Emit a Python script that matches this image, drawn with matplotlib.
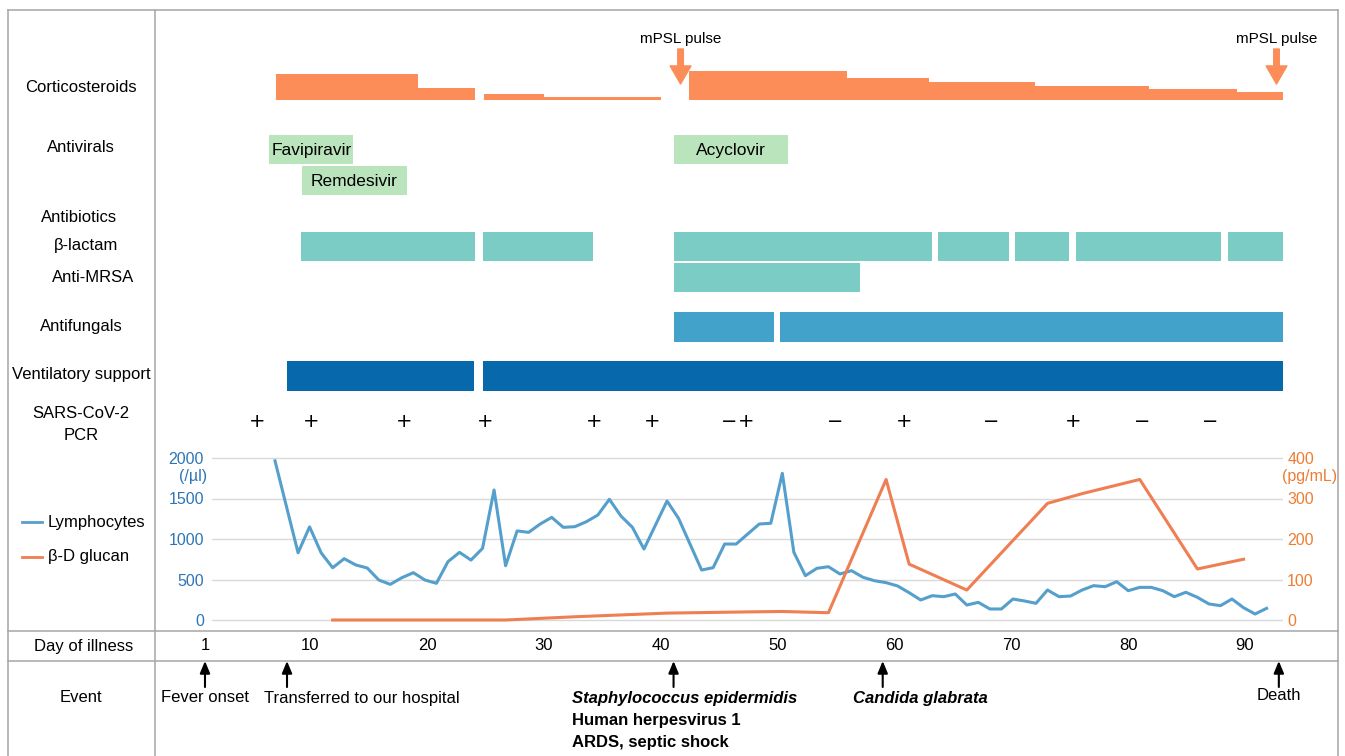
import matplotlib
matplotlib.use("Agg")
import matplotlib.pyplot as plt
from matplotlib.lines import Line2D
from matplotlib import transforms

plt.rcParams['font.family'] = ['Liberation Sans', 'DejaVu Sans']

# ---------------- data ----------------
# Corticosteroids (relative daily dose, arbitrary units)
steroid_start = [7.05, 19.2, 24.85, 30.0, 42.45, 55.95, 63.0, 72.05, 81.8, 89.3]
steroid_end = [19.2, 24.1, 30.0, 40.0, 55.95, 63.0, 72.05, 81.8, 89.3, 93.25]
steroid_dose = [26, 12.5, 6.5, 3, 29.5, 22, 18, 14, 11, 8.5]
mpsl_pulse_days = [41.7, 92.7]

antiviral_names = ['Favipiravir', 'Remdesivir', 'Acyclovir']
antiviral_start = [6.5, 9.3, 41.1]
antiviral_end = [13.7, 18.3, 50.9]
antiviral_lane = [0, 1, 0]

blactam_start = [9.25, 24.8, 41.15, 63.75, 70.3, 75.5, 88.55]
blactam_end = [24.1, 34.2, 63.2, 69.8, 74.95, 87.95, 93.25]
mrsa_start = [41.15]
mrsa_end = [57.05]
antifungal_start = [41.15, 50.2]
antifungal_end = [49.7, 93.25]
vent_start = [8.05, 24.8]
vent_end = [24.05, 93.25]

pcr_days = [5.5, 10.05, 18.0, 24.95, 34.3, 39.3, 45.85, 47.3, 54.9, 60.8, 68.3, 75.3, 81.2, 87.0]
pcr_results = ['+', '+', '+', '+', '+', '+', '\u2212', '+', '\u2212', '+', '\u2212', '+', '\u2212', '\u2212']

lymph_days = [7, 9, 10, 11, 12, 13, 14, 15, 16, 17, 18, 19, 20, 21, 22, 23, 24, 25, 26, 27,
              28, 29, 30, 31, 32, 33, 34, 35, 36, 37, 38, 39, 41, 42, 44, 45, 46, 47, 48, 49,
              50, 51, 52, 53, 54, 55, 56, 57, 58, 59, 60, 61, 62, 63, 64, 65, 66, 67, 68, 69,
              70, 71, 72, 73, 74, 75, 76, 77, 78, 79, 80, 81, 82, 83, 84, 85, 86, 87, 88, 89,
              90, 91, 92, 93]
lymph_values = [1965, 830, 1150, 830, 645, 757, 680, 642, 494, 440, 522, 584, 494, 453, 720, 835,
                740, 885, 1605, 670, 1100, 1082, 1185, 1267, 1144, 1152, 1213, 1296, 1490, 1284,
                1144, 876, 1469, 1255, 617, 646, 938, 938, 1062, 1185, 1194, 1811, 836, 547, 638,
                658, 568, 609, 527, 485, 461, 420, 337, 247, 300, 288, 321, 185, 218, 136, 136,
                259, 235, 206, 370, 288, 296, 370, 424, 411, 473, 362, 403, 403, 362, 288, 342,
                280, 198, 177, 259, 152, 74, 144]

glucan_days = [12, 19, 27, 33, 41, 48, 51, 55, 60, 62, 67, 74, 77, 82, 87, 91]
glucan_values = [0, 0, 0, 8, 17, 20, 21, 18, 347, 138, 74, 288, 312, 347, 126, 150]

illness_day_ticks = [1, 10, 20, 30, 40, 50, 60, 70, 80, 90]
event_days = [1, 8.02, 41.1, 59.0, 92.9]

# ---------------- layout helpers ----------------
W, H = 1345, 756
fig = plt.figure(figsize=(W / 100, H / 100), dpi=100)
fig.patch.set_facecolor('white')
PX = transforms.Affine2D().scale(1 / W, -1 / H).translate(0, 1) + fig.transFigure


def fig_rect(x0, y0, x1, y1):
    return [x0 / W, 1 - y1 / H, (x1 - x0) / W, (y1 - y0) / H]


ORANGE = '#FC8D59'
GREEN = '#BAE4BC'
TEAL = '#7BCCC4'
MIDBLUE = '#43A2CA'
DARKBLUE = '#0868AC'
LYMPH_C = '#559FCC'
GLUC_C = '#EF7E52'
BLUE_TXT = '#2E75B6'
ORANGE_TXT = '#ED7D31'
FRAME = '#A6A6A6'

# frame lines
for xs, ys in [([8, 1338], [10, 10]), ([8, 8], [10, 756]), ([1338, 1338], [10, 756]),
               ([155, 155], [10, 756]), ([8, 1338], [631, 631]), ([8, 1338], [661, 661])]:
    fig.add_artist(Line2D(xs, ys, transform=PX, color=FRAME, lw=1.1))

# ---------------- timeline panel ----------------
ax = fig.add_axes(fig_rect(155, 10, 1338, 756))
x_a, x_b = 193.3, 11.685  # pixel = x_a + x_b*day
ax.set_xlim((155 - x_a) / x_b, (1338 - x_a) / x_b)
ax.set_ylim(756, 10)
ax.axis('off')


def bars(starts, ends, top, height, color):
    ax.bar(starts, height, width=[e - s for s, e in zip(starts, ends)], bottom=top,
           align='edge', color=color, edgecolor='none')


# corticosteroids
ax.bar(steroid_start, [-d for d in steroid_dose],
       width=[e - s for s, e in zip(steroid_start, steroid_end)], bottom=100,
       align='edge', color=ORANGE, edgecolor='none')
for d in mpsl_pulse_days:
    ax.annotate('', xy=(d, 84), xytext=(d, 49),
                arrowprops=dict(arrowstyle='simple,head_length=0.65,head_width=0.75,tail_width=0.2',
                                color=ORANGE, mutation_scale=20, shrinkA=0, shrinkB=0))
    ax.text(d, 39, 'mPSL pulse', ha='center', va='center', fontsize=11)

# antivirals
lane_top = [134.5, 165.5]
for name, s, e, ln in zip(antiviral_names, antiviral_start, antiviral_end, antiviral_lane):
    bars([s], [e], lane_top[ln], 29.5, GREEN)
    ax.text((s + e) / 2, lane_top[ln] + 15.5, name, ha='center', va='center', fontsize=12.5)

bars(blactam_start, blactam_end, 231.5, 29.5, TEAL)
bars(mrsa_start, mrsa_end, 262.5, 29.5, TEAL)
bars(antifungal_start, antifungal_end, 312, 30, MIDBLUE)
bars(vent_start, vent_end, 361, 30, DARKBLUE)

for d, r in zip(pcr_days, pcr_results):
    ax.text(d, 421.5, r, ha='center', va='center', fontsize=14, family='DejaVu Sans')

# day of illness
for d in illness_day_ticks:
    ax.text(d, 646, str(d), ha='center', va='center', fontsize=12)

# events
for d in event_days:
    ax.annotate('', xy=(d, 661), xytext=(d, 687),
                arrowprops=dict(arrowstyle='-|>,head_width=0.25,head_length=0.6', color='black',
                                lw=1.5, mutation_scale=12, shrinkA=0, shrinkB=0))
ax.text(event_days[0], 698, 'Fever onset', ha='center', va='center', fontsize=12)
ax.text((264 - x_a) / x_b, 698, 'Transferred to our hospital', ha='left', va='center', fontsize=12)
ax.text((572 - x_a) / x_b, 698, 'Staphylococcus epidermidis', ha='left', va='center', fontsize=12,
        weight='bold', style='italic')
ax.text((572 - x_a) / x_b, 720, 'Human herpesvirus 1', ha='left', va='center', fontsize=12, weight='bold')
ax.text((572 - x_a) / x_b, 742, 'ARDS, septic shock', ha='left', va='center', fontsize=12, weight='bold')
ax.text((853 - x_a) / x_b, 698, 'Candida glabrata', ha='left', va='center', fontsize=12,
        weight='bold', style='italic')
ax.text(event_days[4], 696, 'Death', ha='center', va='center', fontsize=12)

# ---------------- left column labels ----------------
left_labels = [('Corticosteroids', 81, 87), ('Antivirals', 81, 148), ('Antibiotics', 79, 218),
               ('\u03b2-lactam', 86, 246), ('Anti-MRSA', 93, 277), ('Antifungals', 81, 327),
               ('Ventilatory support', 81, 375), ('SARS-CoV-2', 81, 413), ('PCR', 81, 436),
               ('Day of illness', 84, 646), ('Event', 81, 698)]
for s, x, y in left_labels:
    fig.text(x / W, 1 - y / H, s, ha='center', va='center', fontsize=12)

# legend
for y, lab, c in [(522, 'Lymphocytes', LYMPH_C), (557, '\u03b2-D glucan', GLUC_C)]:
    fig.add_artist(Line2D([22, 42], [y, y], transform=PX, color=c, lw=2))
    fig.text(48 / W, 1 - y / H, lab, ha='left', va='center', fontsize=12)

# ---------------- lymphocyte / glucan chart ----------------
axc = fig.add_axes(fig_rect(211.7, 448, 1283, 631))
c_a, c_b = 275.0, 11.53  # pixel = c_a + c_b*(day-7)
axc.set_xlim(7 + (211.7 - c_a) / c_b, 7 + (1283 - c_a) / c_b)
axc.set_ylim(-(631 - 620) / 162 * 2000, (620 - 448) / 162 * 2000)
for sp in axc.spines.values():
    sp.set_visible(False)
axc.set_xticks([])
axc.set_yticks([0, 500, 1000, 1500, 2000])
axc.tick_params(axis='y', length=0, pad=5.5, labelsize=11.5, labelcolor=BLUE_TXT)
axc.yaxis.grid(True, color='#D9D9D9', lw=1)
axc.set_axisbelow(True)
axc.plot(lymph_days, lymph_values, color=LYMPH_C, lw=2.2, solid_joinstyle='round')

axg = axc.twinx()
lo, hi = axc.get_ylim()
axg.set_ylim(lo / 5, hi / 5)
for sp in axg.spines.values():
    sp.set_visible(False)
axg.set_yticks([0, 100, 200, 300, 400])
axg.tick_params(axis='y', length=0, pad=3, labelsize=11.5, labelcolor=ORANGE_TXT)
axg.plot(glucan_days, glucan_values, color=GLUC_C, lw=2.2, solid_joinstyle='round')

fig.text(207 / W, 1 - 476 / H, '(/\u00b5l)', ha='right', va='center', fontsize=11.5, color=BLUE_TXT)
fig.text(1282 / W, 1 - 476 / H, '(pg/mL)', ha='left', va='center', fontsize=11.5, color=ORANGE_TXT)

fig.savefig('out.png', dpi=100, facecolor='white')
